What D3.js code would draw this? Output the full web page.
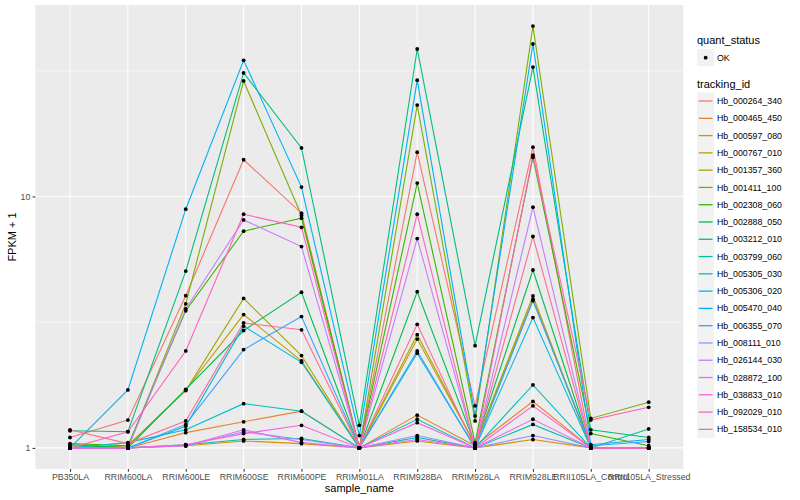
<!DOCTYPE html>
<html><head><meta charset="utf-8">
<script src="https://cdn.jsdelivr.net/npm/d3@7"></script>
<style>body{margin:0;background:#fff} text{font-family:"Liberation Sans",Arial,Helvetica,sans-serif}</style>
</head><body><svg id="c" width="800" height="500"></svg>
<script>
// ---- data ----
const samples = ["PB350LA","RRIM600LA","RRIM600LE","RRIM600SE","RRIM600PE","RRIM901LA","RRIM928BA","RRIM928LA","RRIM928LE","RRII105LA_Control","RRII105LA_Stressed"];
const trackingIds = ["Hb_000264_340","Hb_000465_450","Hb_000597_080","Hb_000767_010","Hb_001357_360","Hb_001411_100","Hb_002308_060","Hb_002888_050","Hb_003212_010","Hb_003799_060","Hb_005305_030","Hb_005306_020","Hb_005470_040","Hb_006355_070","Hb_008111_010","Hb_026144_030","Hb_028872_100","Hb_038833_010","Hb_092029_010","Hb_158534_010"];
const seriesColors = ["#F8766D","#EA8331","#D89000","#C09B00","#A3A500","#7CAE00","#39B600","#00BB4E","#00BF7D","#00C1A3","#00BFC4","#00BAE0","#00B0F6","#35A2FF","#9590FF","#C77CFF","#E76BF3","#FA62DB","#FF62BC","#FF6C91"];
const quantStatus = ["OK"];
const yTicks = [1, 10];
const yTickLabels = ["1", "10"];

const Hb_000264_340 = [1.10, 1.29, 4.03, 14.0, 8.58, 1.00, 15.0, 1.47, 15.7, 1.00, 1.00];
const Hb_000465_450 = [1.00, 1.00, 1.15, 1.27, 1.40, 1.00, 1.35, 1.02, 1.53, 1.00, 1.00];
const Hb_000597_080 = [1.00, 1.00, 1.02, 1.066, 1.04, 1.00, 1.066, 1.00, 1.08, 1.00, 1.00];
const Hb_000767_010 = [1.00, 1.02, 1.70, 3.39, 2.22, 1.00, 2.71, 1.03, 3.90, 1.00, 1.00];
const Hb_001357_360 = [1.00, 1.02, 1.69, 3.93, 2.33, 1.00, 2.82, 1.03, 4.02, 1.00, 1.00];
const Hb_001411_100 = [1.02, 1.00, 3.74, 28.8, 8.40, 1.00, 23.1, 1.28, 47.6, 1.31, 1.52];
const Hb_002308_060 = [1.04, 1.02, 3.51, 7.28, 8.20, 1.00, 11.3, 1.05, 14.3, 1.14, 1.02];
const Hb_002888_050 = [1.03, 1.00, 1.71, 2.93, 4.16, 1.00, 4.18, 1.03, 5.10, 1.00, 1.00];
const Hb_003212_010 = [1.17, 1.16, 5.05, 31.0, 15.6, 1.23, 38.6, 2.55, 32.7, 1.18, 1.10];
const Hb_003799_060 = [1.00, 1.00, 1.03, 1.08, 1.09, 1.00, 1.10, 1.00, 1.24, 1.00, 1.19];
const Hb_005305_030 = [1.00, 1.05, 1.18, 1.50, 1.40, 1.00, 1.30, 1.00, 1.78, 1.00, 1.00];
const Hb_005306_020 = [1.00, 1.00, 1.22, 3.05, 2.19, 1.00, 2.38, 1.00, 3.30, 1.00, 1.00];
const Hb_005470_040 = [1.00, 1.70, 8.90, 34.8, 10.9, 1.12, 29.0, 1.34, 40.4, 1.03, 1.08];
const Hb_006355_070 = [1.00, 1.00, 1.24, 2.46, 3.33, 1.00, 2.43, 1.00, 3.85, 1.02, 1.06];
const Hb_008111_010 = [1.00, 1.00, 1.02, 1.16, 1.08, 1.00, 1.12, 1.00, 1.12, 1.00, 1.00];
const Hb_026144_030 = [1.00, 1.00, 3.57, 8.07, 6.32, 1.00, 6.80, 1.00, 9.07, 1.00, 1.00];
const Hb_028872_100 = [1.00, 1.00, 1.02, 1.18, 1.05, 1.00, 1.08, 1.00, 1.30, 1.00, 1.00];
const Hb_038833_010 = [1.00, 1.00, 1.03, 1.14, 1.23, 1.00, 1.26, 1.00, 1.47, 1.00, 1.00];
const Hb_092029_010 = [1.00, 1.16, 2.43, 8.50, 7.54, 1.00, 8.50, 1.00, 14.6, 1.29, 1.45];
const Hb_158534_010 = [1.18, 1.04, 1.28, 3.14, 2.95, 1.00, 3.10, 1.00, 6.93, 1.00, 1.00];

const seriesValues = [Hb_000264_340,Hb_000465_450,Hb_000597_080,Hb_000767_010,Hb_001357_360,Hb_001411_100,Hb_002308_060,Hb_002888_050,Hb_003212_010,Hb_003799_060,Hb_005305_030,Hb_005306_020,Hb_005470_040,Hb_006355_070,Hb_008111_010,Hb_026144_030,Hb_028872_100,Hb_038833_010,Hb_092029_010,Hb_158534_010];

const series = trackingIds.map((id, i) => ({
  id, color: seriesColors[i],
  pts: samples.map((s, j) => ({ s, v: seriesValues[i][j] }))
}));

// ---- layout ----
const svg = d3.select("#c");
const P = { l: 35.3, r: 683.4, t: 5, b: 469 };

const all = seriesValues.flat();
const lmin = Math.log10(d3.min(all)), lmax = Math.log10(d3.max(all));
const ex = (lmax - lmin) * 0.05;
const y = d3.scaleLog().domain([Math.pow(10, lmin - ex), Math.pow(10, lmax + ex)]).range([P.b, P.t]);
const x = d3.scalePoint().domain(samples).range([P.l, P.r]).padding(0.6);

// panel
svg.append("rect").attr("x", P.l).attr("y", P.t).attr("width", P.r - P.l).attr("height", P.b - P.t).attr("fill", "#EBEBEB");

// minor gridlines (midpoints in log space)
const minor = [Math.sqrt(10), Math.pow(10, 1.5)];
svg.append("g").selectAll("line").data(minor).join("line")
  .attr("x1", P.l).attr("x2", P.r).attr("y1", d => y(d)).attr("y2", d => y(d))
  .attr("stroke", "#fff").attr("stroke-width", 0.53);
// major gridlines
svg.append("g").selectAll("line").data(yTicks).join("line")
  .attr("x1", P.l).attr("x2", P.r).attr("y1", d => y(d)).attr("y2", d => y(d))
  .attr("stroke", "#fff").attr("stroke-width", 1.07);
svg.append("g").selectAll("line").data(samples).join("line")
  .attr("y1", P.t).attr("y2", P.b).attr("x1", d => x(d)).attr("x2", d => x(d))
  .attr("stroke", "#fff").attr("stroke-width", 1.07);

// lines
const line = d3.line().x(d => x(d.s)).y(d => y(d.v));
svg.append("g").selectAll("path").data(series).join("path")
  .attr("d", d => line(d.pts)).attr("fill", "none")
  .attr("stroke", d => d.color).attr("stroke-width", 1.1);

// points
svg.append("g").selectAll("circle").data(series.flatMap(d => d.pts)).join("circle")
  .attr("cx", d => x(d.s)).attr("cy", d => y(d.v)).attr("r", 1.9).attr("fill", "#000");

// axes
const yAxis = d3.axisLeft(y).tickValues(yTicks).tickFormat((d, i) => yTickLabels[i]).tickSize(2.75).tickPadding(2.2);
const gy = svg.append("g").attr("transform", `translate(${P.l},0)`).call(yAxis);
const xAxis = d3.axisBottom(x).tickSize(2.75).tickPadding(2.2);
const gx = svg.append("g").attr("transform", `translate(0,${P.b})`).call(xAxis);
[gy, gx].forEach(g => {
  g.select(".domain").remove();
  g.selectAll(".tick line").attr("stroke", "#333").attr("stroke-width", 1.07);
  g.selectAll(".tick text").attr("fill", "#4D4D4D").style("font-size", "8.8px")
    .style("font-family", '"Liberation Sans",Arial,sans-serif');
});

svg.append("text").attr("x", (P.l + P.r) / 2).attr("y", 492).attr("text-anchor", "middle")
  .style("font-size", "11px").attr("fill", "#000").text("sample_name");
svg.append("text").attr("transform", `translate(16,${(P.t + P.b) / 2}) rotate(-90)`).attr("text-anchor", "middle")
  .style("font-size", "11px").attr("fill", "#000").text("FPKM + 1");

// legend
const L = svg.append("g");
const lx = 697, ks = 17.28;
L.append("text").attr("x", lx).attr("y", 44).style("font-size", "11px").text("quant_status");
const qk = L.append("g").selectAll("g").data(quantStatus).join("g").attr("transform", (d, i) => `translate(${lx},${49 + i * ks})`);
qk.append("rect").attr("width", ks).attr("height", ks).attr("fill", "#F2F2F2");
qk.append("circle").attr("cx", ks / 2).attr("cy", ks / 2).attr("r", 1.9).attr("fill", "#000");
qk.append("text").attr("x", ks + 2.6).attr("y", ks / 2).attr("dy", "0.35em").style("font-size", "8.8px").text(d => d);

L.append("text").attr("x", lx).attr("y", 88).style("font-size", "11px").text("tracking_id");
const tk = L.append("g").selectAll("g").data(series).join("g").attr("transform", (d, i) => `translate(${lx},${92.4 + i * ks})`);
tk.append("rect").attr("width", ks).attr("height", ks).attr("fill", "#F2F2F2");
tk.append("line").attr("x1", 1.7).attr("x2", ks - 1.7).attr("y1", ks / 2).attr("y2", ks / 2)
  .attr("stroke", d => d.color).attr("stroke-width", 1.3);
tk.append("text").attr("x", ks + 2.6).attr("y", ks / 2).attr("dy", "0.35em").style("font-size", "8.8px").text(d => d.id);
</script></body></html>
